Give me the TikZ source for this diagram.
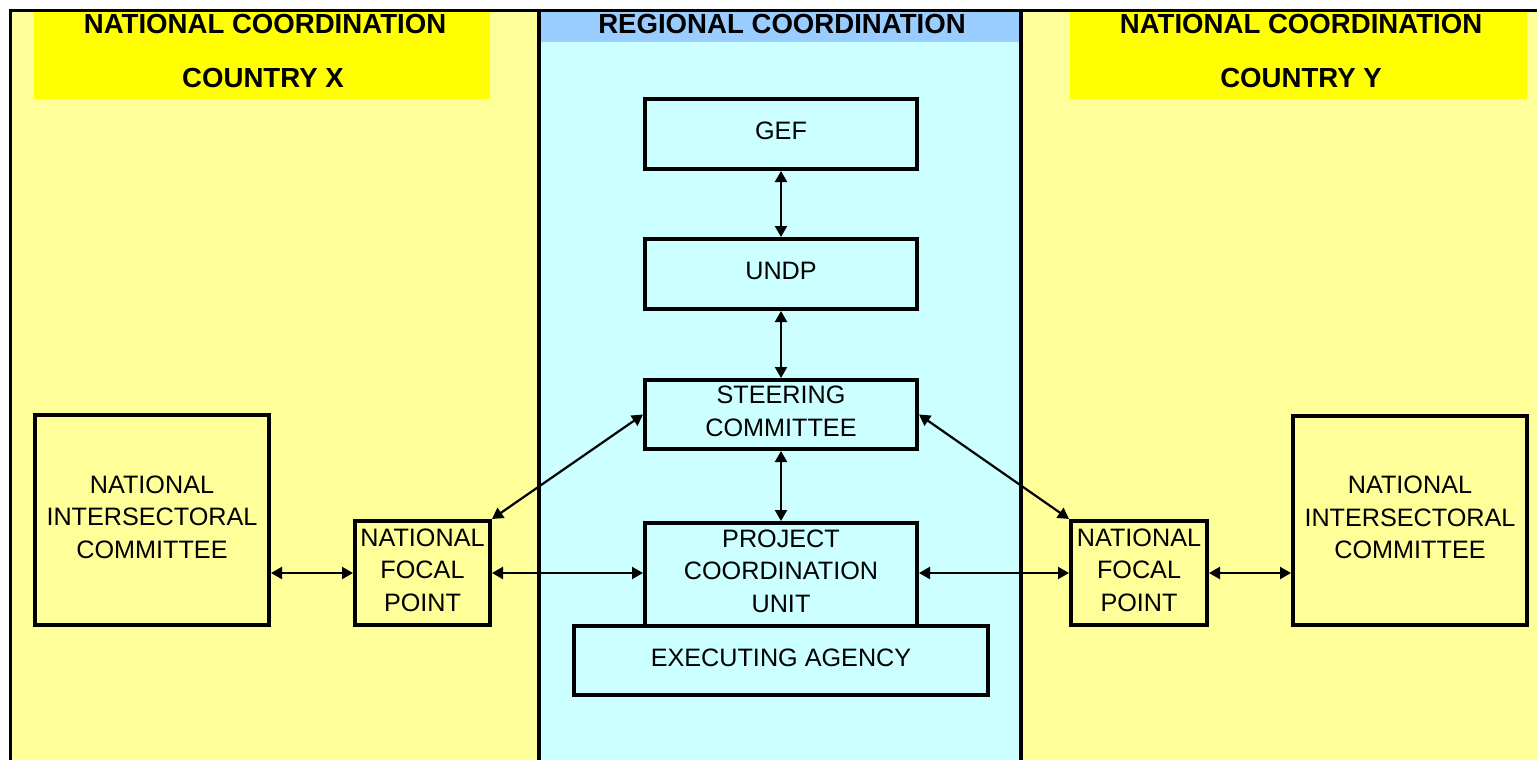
\documentclass[tikz,border=0pt]{standalone}
\usepackage{fontspec}
\setmainfont{Liberation Sans}
\usetikzlibrary{arrows.meta}
\definecolor{lyel}{HTML}{FFFF99}
\definecolor{hyel}{HTML}{FFFF00}
\definecolor{lcyan}{HTML}{CCFFFF}
\definecolor{hblue}{HTML}{99CCFF}
\tikzset{
  txt/.style={inner sep=0pt, align=center, yshift=1.5pt,
    font=\fontsize{12.6pt}{16.2pt}\selectfont},
  box/.style={draw=black, line width=2pt, inner sep=0pt},
  cbox/.style={box, fill=lcyan},
  ybox/.style={box, fill=lyel},
  hdr/.style={inner sep=0pt, font=\fontsize{13.8pt}{16pt}\selectfont\bfseries},
  arr/.style={line width=1.1pt, {Triangle[length=5.5pt,width=6pt]}-{Triangle[length=5.5pt,width=6pt]}},
  divider/.style={line width=2pt, draw=black}
}
\begin{document}
\begin{tikzpicture}[x=0.5pt,y=-0.5pt]
\useasboundingbox (0,0) rectangle (1537,760);
\fill[white] (0,0) rectangle (1537,760);
% panels
\fill[lyel] (10.5,10.5) rectangle (539,760);
\fill[lcyan] (539,10.5) rectangle (1021,760);
\fill[hblue] (539,10.5) rectangle (1021,42);
\fill[lyel] (1021,10.5) rectangle (1537,760);
\fill[hyel] (34,12) rectangle (490,99);
\fill[hyel] (1070,12) rectangle (1527,99);
\draw[line width=1.5pt] (9,10.5) -- (1537,10.5);
\draw[line width=1.5pt] (10.5,9) -- (10.5,760);
\draw[divider] (539,10.5) -- (539,760);
\draw[divider] (1021,10.5) -- (1021,760);
% headers
\node[hdr] (hL1) at (265,24) {NATIONAL COORDINATION};
\node[hdr] (hL2) at (263,78) {COUNTRY X};
\node[hdr] (hM) at (782,24) {REGIONAL COORDINATION};
\node[hdr] (hR1) at (1301,24) {NATIONAL COORDINATION};
\node[hdr] (hR2) at (1301,78) {COUNTRY Y};
% central boxes
\node[cbox, minimum width=136pt, minimum height=35pt, label={[txt]center:GEF}] (gef) at (781,134) {};
\node[cbox, minimum width=136pt, minimum height=35pt, label={[txt]center:UNDP}] (undp) at (781,274) {};
\node[cbox, minimum width=136pt, minimum height=34.5pt, label={[txt]center:{STEERING\\COMMITTEE}}] (sc) at (781,414.5) {};
\node[cbox, minimum width=136pt, minimum height=51.5pt] (pcu) at (781,574.5) {};
\node[txt, yshift=-1.5pt] (pcut) at (781,571) {PROJECT\\COORDINATION\\UNIT};
\node[cbox, minimum width=207pt, minimum height=34.5pt, label={[txt]center:EXECUTING AGENCY}] (ea) at (781,660.5) {};
% side boxes
\node[ybox, minimum width=67.5pt, minimum height=52pt, label={[txt]center:{NATIONAL\\FOCAL\\POINT}}] (nfpL) at (422.5,573) {};
\node[ybox, minimum width=117pt, minimum height=105pt, label={[txt]center:{NATIONAL\\INTERSECTORAL\\COMMITTEE}}] (nicL) at (152,520) {};
\node[ybox, minimum width=68pt, minimum height=52pt, label={[txt]center:{NATIONAL\\FOCAL\\POINT}}] (nfpR) at (1139,573) {};
\node[ybox, minimum width=117pt, minimum height=104.5pt, label={[txt]center:{NATIONAL\\INTERSECTORAL\\COMMITTEE}}] (nicR) at (1410,520.5) {};
% connectors
\draw[arr] (gef) -- (undp);
\draw[arr] (undp) -- (sc);
\draw[arr] (sc) -- (pcu);
\draw[arr] (sc.west) -- (nfpL.north east);
\draw[arr] (sc.east) -- (nfpR.north west);
\draw[arr] (nfpL.east) -- (pcu.west |- nfpL.east);
\draw[arr] (pcu.east |- nfpR.west) -- (nfpR.west);
\draw[arr] (nicL.east |- nfpL.west) -- (nfpL.west);
\draw[arr] (nfpR.east) -- (nicR.west |- nfpR.east);
\end{tikzpicture}
\end{document}
